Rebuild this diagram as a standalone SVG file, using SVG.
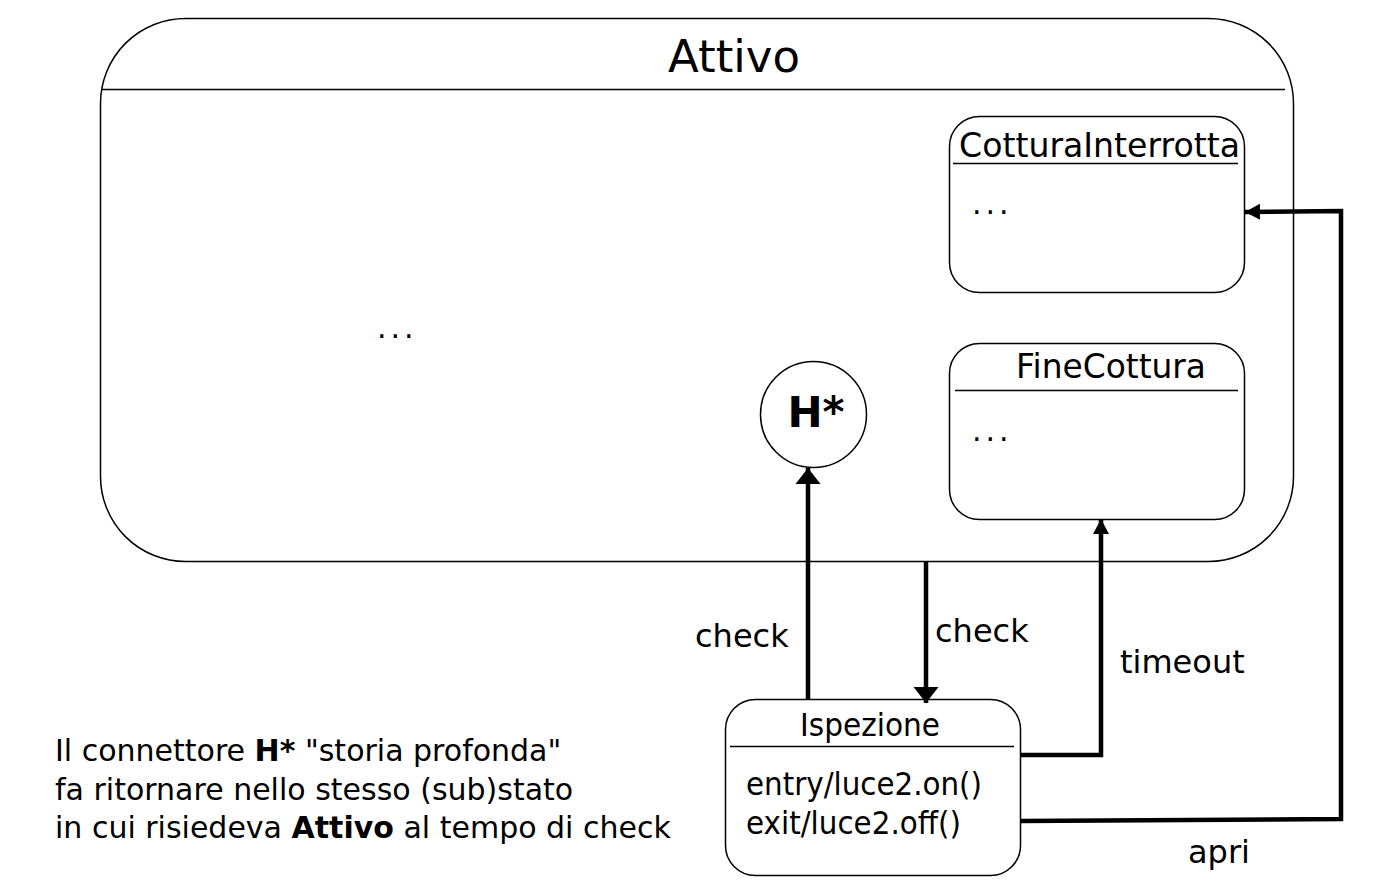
<svg xmlns="http://www.w3.org/2000/svg" width="1376" height="886" viewBox="0 0 1376 886">
<style>
text{font-family:"DejaVu Sans","Liberation Sans",sans-serif;fill:#000}
.box{fill:#fff;stroke:#000;stroke-width:1.5}
.sep{stroke:#000;stroke-width:1.5;fill:none}
.title{font-size:33px}
.lbl{font-size:32px}
.dots{font-size:30px;letter-spacing:4px}
.cond{font-size:32px}
.note{font-size:30px}
.conn{fill:none;stroke:#000;stroke-width:4.5;stroke-linejoin:miter}
</style>
<defs>
<marker id="arrBig" markerUnits="userSpaceOnUse" markerWidth="28" markerHeight="28" viewBox="0 0 28 28" refX="16" refY="14" orient="auto">
<path d="M0,1.5 L16,14 L0,26.5 Z" fill="#000"/>
</marker>
<marker id="arr" markerUnits="userSpaceOnUse" markerWidth="20" markerHeight="20" viewBox="0 0 20 20" refX="15" refY="10" orient="auto">
<path d="M0,2 L15,10 L0,18 Z" fill="#000"/>
</marker>
</defs>
<rect width="1376" height="886" fill="#fff"/>
<g id="attivo">
<rect class="box" x="100.5" y="18.5" width="1193" height="543" rx="85" ry="85"/>
<line class="sep" x1="101" y1="89.5" x2="1285" y2="89.5"/>
<text x="734" y="72" font-size="45" text-anchor="middle">Attivo</text>
<text class="dots" x="377" y="338">...</text>
</g>
<g id="cotturaInterrotta">
<rect class="box" x="949.5" y="116.5" width="295" height="176" rx="30" ry="30"/>
<line class="sep" x1="953" y1="163.5" x2="1238" y2="163.5"/>
<text class="title" x="1099.5" y="157" text-anchor="middle" textLength="281" lengthAdjust="spacingAndGlyphs">CotturaInterrotta</text>
<text class="dots" x="972" y="214">...</text>
</g>
<g id="fineCottura">
<rect class="box" x="949.5" y="343.5" width="295" height="176" rx="30" ry="30"/>
<line class="sep" x1="955" y1="390.5" x2="1238" y2="390.5"/>
<text class="title" x="1111" y="378" text-anchor="middle" textLength="190" lengthAdjust="spacingAndGlyphs">FineCottura</text>
<text class="dots" x="972" y="441">...</text>
</g>
<g id="historyH">
<circle class="box" cx="813.5" cy="414.5" r="53"/>
<text x="816" y="427" font-size="42" font-weight="bold" text-anchor="middle">H*</text>
</g>
<g id="ispezione">
<rect class="box" x="725.5" y="699.5" width="295" height="176" rx="30" ry="30"/>
<line class="sep" x1="730" y1="746.5" x2="1014" y2="746.5"/>
<text class="cond" x="870" y="736" text-anchor="middle" textLength="140" lengthAdjust="spacingAndGlyphs">Ispezione</text>
<text class="cond" x="746" y="795" textLength="236" lengthAdjust="spacingAndGlyphs">entry/luce2.on()</text>
<text class="cond" x="746" y="834" textLength="215" lengthAdjust="spacingAndGlyphs">exit/luce2.off()</text>
</g>
<g id="connectors">
<path class="conn" d="M808,699 L808,468" marker-end="url(#arrBig)"/>
<path class="conn" d="M926,562 L926,703" marker-end="url(#arrBig)"/>
<path class="conn" d="M1020,755 L1101,755 L1101,519" marker-end="url(#arr)"/>
<path class="conn" d="M1020,821 L1341,819 L1341,211 L1245,212" marker-end="url(#arr)"/>
<text class="lbl" x="695" y="647">check</text>
<text class="lbl" x="935" y="642">check</text>
<text class="lbl" x="1120" y="673">timeout</text>
<text class="lbl" x="1188" y="863">apri</text>
</g>
<g id="note">
<text class="note" x="55" y="761">Il connettore <tspan font-weight="bold">H*</tspan> "storia profonda"</text>
<text class="note" x="55" y="800">fa ritornare nello stesso (sub)stato</text>
<text class="note" x="55" y="838">in cui risiedeva <tspan font-weight="bold">Attivo</tspan> al tempo di check</text>
</g>
</svg>
